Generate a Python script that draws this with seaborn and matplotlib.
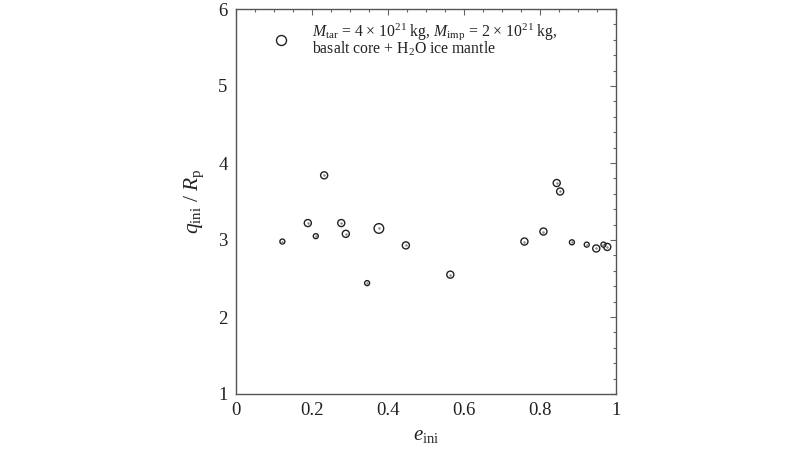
import numpy as np
import pandas as pd
import matplotlib
matplotlib.use("Agg")
import matplotlib.pyplot as plt
from matplotlib.lines import Line2D
from matplotlib.ticker import MultipleLocator, FixedLocator
import seaborn as sns

# values
e_ini = [0.122, 0.189, 0.210, 0.232, 0.277, 0.289, 0.345, 0.376, 0.447, 0.564,
         0.759, 0.809, 0.844, 0.853, 0.884, 0.923, 0.948, 0.967, 0.977]
q_ini = [2.98, 3.22, 3.05, 3.84, 3.22, 3.08, 2.44, 3.15, 2.93, 2.55,
         2.98, 3.11, 3.74, 3.63, 2.97, 2.94, 2.89, 2.94, 2.91]
size_class = [1, 2, 1, 2, 2, 2, 1, 3, 2, 2, 2, 2, 2, 2, 1, 1, 2, 1, 2]
x_ticks = [0, 0.2, 0.4, 0.6, 0.8, 1]
x_tick_labels = ["0", "0.2", "0.4", "0.6", "0.8", "1"]
y_ticks = [1, 2, 3, 4, 5, 6]
legend_label = ("$M_{\\rm tar}$ = 4 × 10$^{21}$ kg, $M_{\\rm imp}$ = 2 × 10$^{21}$ kg,\n"
                "basalt core + H$_2$O ice mantle")

df = pd.DataFrame({"e": e_ini, "q": q_ini, "size": size_class})

sns.set_style("white")
plt.rcParams["font.family"] = ["Liberation Serif", "DejaVu Serif"]
plt.rcParams["mathtext.fontset"] = "custom"
plt.rcParams["mathtext.rm"] = "Liberation Serif"
plt.rcParams["mathtext.it"] = "Liberation Serif:italic"
plt.rcParams["mathtext.bf"] = "Liberation Serif:bold"

fig = plt.figure(figsize=(8, 4.5), dpi=100, facecolor="white")
ax = fig.add_axes([236 / 800, 1 - 394 / 450, 380 / 800, 385 / 450])

sns.scatterplot(data=df, x="e", y="q", size="size",
                sizes={1: 13, 2: 26, 3: 48}, facecolor="none",
                edgecolor="#222222", linewidth=1.0, legend=False, ax=ax)
ax.scatter(df["e"], df["q"], s=0.6, color="#888888", zorder=3)

ax.set_xlim(0, 1)
ax.set_ylim(1, 6)
ax.xaxis.set_major_locator(FixedLocator(x_ticks))
ax.set_xticklabels(x_tick_labels)
ax.yaxis.set_major_locator(FixedLocator(y_ticks))
ax.xaxis.set_minor_locator(MultipleLocator(0.05))
ax.yaxis.set_minor_locator(MultipleLocator(0.2))
ax.tick_params(which="both", direction="in", top=True, right=True,
               color="#666666", labelsize=13.5, pad=6, labelcolor="#222222")
ax.tick_params(which="major", length=4.5, width=0.8)
ax.tick_params(which="minor", length=2.5, width=0.8)
for sp in ax.spines.values():
    sp.set_color("#555555")
    sp.set_linewidth(1.0)

ax.set_xlabel("$e_{\\rm ini}$", fontsize=15, labelpad=5, color="#222222")
ax.set_ylabel("$q_{\\rm ini}$ / $R_{\\rm p}$", fontsize=15.5, labelpad=9,
              color="#222222")

handle = Line2D([], [], linestyle="none", marker="o", markersize=7.2,
                markerfacecolor="none", markeredgecolor="#222222",
                markeredgewidth=1.0)
leg = ax.legend([handle], [legend_label], loc="upper left",
                bbox_to_anchor=(0.073, 0.99), frameon=False, fontsize=11.3,
                handlelength=1.2, handletextpad=1.4, borderpad=0)
for t in leg.get_texts():
    t.set_linespacing(0.86)
    t.set_color("#222222")

fig.savefig("out.png", dpi=100, facecolor="white")
